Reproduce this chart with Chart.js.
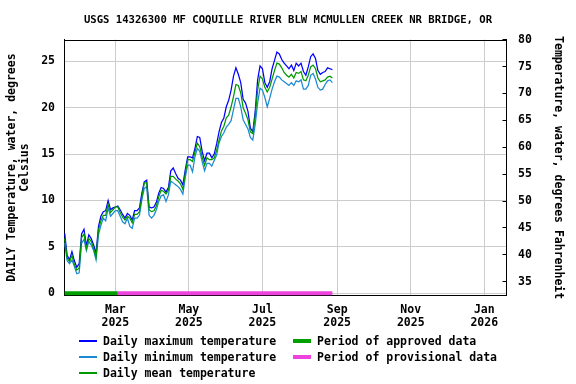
<!DOCTYPE html>
<html>
<head>
<meta charset="utf-8">
<script src="https://cdn.jsdelivr.net/npm/chart.js@4.4.1/dist/chart.umd.min.js"></script>
<style>
  html, body { margin: 0; padding: 0; background: #fff; }
  #wrap { position: relative; width: 576px; height: 384px; }
  #legend { position: absolute; left: 0; top: 0; font: bold 11.5px "DejaVu Sans Mono", monospace; color: #000; }
  .item { position: absolute; white-space: pre; line-height: 14px; }
  .swatch { position: absolute; }
</style>
</head>
<body>
<div id="wrap">
  <canvas id="chart" width="576" height="384"></canvas>
  <div id="legend"></div>
</div>
<script>
const stationTitle = 'USGS 14326300 MF COQUILLE RIVER BLW MCMULLEN CREEK NR BRIDGE, OR';

// one value every 2 days starting at firstDay
const firstDay = '2025-01-18';
const stepDays = 2;

const maxTemp = [
  6.45, 4.1, 3.6, 4.5, 3.5, 2.8, 3.2, 6.4, 6.9, 5.1, 6.3, 5.9, 5.2, 4.3, 7.2, 8.3, 8.8, 8.9, 10.0, 9.0,
  9.2, 9.3, 9.4, 9.0, 8.5, 8.1, 8.6, 8.4, 7.9, 8.9, 8.9, 9.2, 10.8, 12.0, 12.2, 9.3, 9.2, 9.3, 9.8, 10.8,
  11.4, 11.3, 10.9, 11.4, 13.2, 13.5, 12.9, 12.4, 12.2, 11.7, 13.3, 14.7, 14.7, 14.6, 15.6, 16.9, 16.8,
  15.3, 14.3, 15.1, 15.1, 14.6, 15.0, 16.1, 17.4, 18.4, 18.9, 20.1, 20.8, 21.9, 23.4, 24.3, 23.6, 22.7, 20.9,
  20.5, 19.6, 17.8, 17.4, 19.6, 23.0, 24.5, 24.2, 22.7, 22.2, 22.8, 24.2, 25.1, 26.0, 25.8, 25.2, 24.8, 24.5,
  24.2, 24.6, 24.0, 24.8, 24.5, 24.8, 23.9, 23.5, 24.4, 25.5, 25.8, 25.3, 24.0, 23.6, 23.8, 23.9, 24.3, 24.2, 24.1
];
const minTemp = [
  5.4, 3.5, 3.2, 3.6, 2.9, 2.1, 2.2, 5.4, 5.8, 4.6, 5.6, 5.2, 4.6, 3.6, 6.3, 7.3, 8.1, 7.8, 9.2, 8.3,
  8.6, 8.9, 8.9, 8.3, 7.7, 7.5, 8.1, 7.2, 7.0, 8.1, 8.1, 8.4, 10.1, 11.3, 11.5, 8.4, 8.1, 8.4, 9.0, 9.9,
  10.5, 10.6, 9.9, 10.6, 12.1, 11.9, 11.7, 11.5, 11.2, 10.7, 12.5, 13.8, 13.8, 13.1, 14.7, 15.6, 15.3,
  14.2, 13.2, 14.0, 14.0, 13.7, 14.3, 14.9, 16.2, 16.9, 17.3, 17.9, 18.2, 18.6, 19.8, 21.0, 21.0, 20.1, 18.7,
  18.2, 17.7, 16.8, 16.5, 18.2, 20.5, 22.1, 21.9, 21.1, 20.1, 21.0, 22.0, 22.8, 23.4, 23.3, 23.0, 22.8, 22.6,
  22.4, 22.7, 22.4, 22.9, 22.8, 23.0, 22.0, 22.0, 22.4, 23.5, 23.7, 23.1, 22.2, 21.9, 22.0, 22.5, 22.9, 23.0, 22.7
];
const meanTemp = [
  5.9, 3.8, 3.4, 4.1, 3.1, 2.5, 2.7, 6.0, 6.4, 4.8, 5.9, 5.6, 4.8, 3.9, 6.8, 7.8, 8.4, 8.4, 9.6, 8.7,
  9.0, 9.3, 9.3, 8.7, 8.2, 7.9, 8.3, 8.1, 7.6, 8.5, 8.5, 8.8, 10.4, 11.9, 11.9, 9.0, 8.8, 8.9, 9.4, 10.4,
  11.1, 11.0, 10.7, 11.1, 12.6, 12.6, 12.3, 12.1, 11.8, 11.2, 12.9, 14.4, 14.4, 14.2, 15.2, 16.2, 15.8,
  14.7, 13.8, 14.6, 14.4, 14.4, 14.6, 15.4, 16.5, 17.5, 18.0, 18.9, 19.2, 20.1, 21.2, 22.5, 22.4, 21.6, 20.0,
  19.4, 18.7, 17.4, 17.2, 19.1, 21.9, 23.4, 23.1, 22.2, 21.7, 22.2, 23.1, 24.0, 24.8, 24.7, 24.3, 23.8, 23.5,
  23.3, 23.6, 23.2, 23.8, 23.7, 23.9, 23.0, 22.9, 23.5, 24.4, 24.6, 24.2, 23.2, 22.8, 22.9, 23.0, 23.3, 23.4, 23.2
];

const approvedPeriod = ['2025-01-18', '2025-03-03'];
const provisionalPeriod = ['2025-03-03', '2025-08-28'];

const axisRange = ['2025-01-17T10:00:00Z', '2026-01-19T10:00:00Z'];
const monthTicks = ['2025-03-01', '2025-05-01', '2025-07-01', '2025-09-01', '2025-11-01', '2026-01-01'];
const monthNames = ['Mar', 'May', 'Jul', 'Sep', 'Nov', 'Jan'];
const celsiusTicks = [0, 5, 10, 15, 20, 25];
const celsiusRange = [-0.26, 27.35];
const fahrenheitTicks = [35, 40, 45, 50, 55, 60, 65, 70, 75, 80];
const fahrenheitRange = [32.4, 80.04];

const dayNum = s => (Date.parse(s) - Date.parse('2025-01-01')) / 864e5;
const series = vals => vals.map((v, i) => ({ x: dayNum(firstDay) + i * stepDays, y: v }));
const period = p => p.map(d => ({ x: dayNum(d), y: 0 }));

const mono = '"DejaVu Sans Mono", monospace';
Chart.defaults.font.family = mono;
Chart.defaults.font.weight = 'bold';
Chart.defaults.font.size = 11.5;
Chart.defaults.color = '#000';

// top edge of the plot box
const frame = {
  id: 'frame',
  afterDraw(chart) {
    const { ctx, chartArea: a } = chart;
    ctx.save();
    ctx.strokeStyle = '#000';
    ctx.lineWidth = 1;
    ctx.beginPath();
    ctx.moveTo(a.left, Math.round(a.top) + 0.5);
    ctx.lineTo(a.right, Math.round(a.top) + 0.5);
    ctx.stroke();
    ctx.restore();
  }
};

const datasets = [
  { label: 'Daily maximum temperature', data: series(maxTemp), borderColor: '#0000ff', order: 2 },
  { label: 'Daily minimum temperature', data: series(minTemp), borderColor: '#1a8ad4', order: 3 },
  { label: 'Daily mean temperature', data: series(meanTemp), borderColor: '#009a00', order: 1 },
  { label: 'Period of approved data', data: period(approvedPeriod), borderColor: '#00a000', borderWidth: 4, order: 0 },
  { label: 'Period of provisional data', data: period(provisionalPeriod), borderColor: '#ee44dd', borderWidth: 4, order: 0 }
];

new Chart(document.getElementById('chart'), {
  type: 'line',
  data: { datasets },
  options: {
    responsive: false,
    animation: false,
    elements: { point: { radius: 0 }, line: { borderWidth: 1.25, tension: 0 } },
    layout: { padding: 0 },
    plugins: {
      legend: { display: false },
      tooltip: { enabled: false },
      title: {
        display: true,
        text: stationTitle,
        font: { size: 10.6, weight: 'bold' },
        padding: { top: 13.6, bottom: 13.2 }
      }
    },
    scales: {
      x: {
        type: 'linear',
        min: dayNum(axisRange[0]),
        max: dayNum(axisRange[1]),
        afterBuildTicks: s => { s.ticks = monthTicks.map(d => ({ value: dayNum(d) })); },
        ticks: {
          autoSkip: false,
          maxRotation: 0,
          padding: 8,
          font: { lineHeight: 1.1 },
          callback: (v, i) => [monthNames[i], monthTicks[i].slice(0, 4)]
        },
        grid: { color: '#cccccc', drawTicks: false },
        border: { color: '#000' },
        afterFit: s => { s.height = 384 - 295.7; }
      },
      y: {
        position: 'left',
        min: celsiusRange[0],
        max: celsiusRange[1],
        afterBuildTicks: s => { s.ticks = celsiusTicks.map(v => ({ value: v })); },
        ticks: { padding: 9 },
        grid: { color: '#cccccc', drawTicks: false },
        border: { color: '#000' },
        title: {
          display: true,
          text: ['DAILY Temperature, water, degrees', 'Celsius'],
          font: { size: 11.5, lineHeight: 1.1 },
          padding: { top: 5.7, bottom: 0 }
        },
        afterFit: s => { s.width = 64; }
      },
      yF: {
        position: 'right',
        min: fahrenheitRange[0],
        max: fahrenheitRange[1],
        afterBuildTicks: s => { s.ticks = fahrenheitTicks.map(v => ({ value: v })); },
        ticks: { padding: 15.5 },
        grid: { drawOnChartArea: false, tickLength: -4, color: '#000' },
        border: { color: '#000' },
        title: {
          display: true,
          text: 'Temperature, water, degrees Fahrenheit',
          font: { size: 11.5, lineHeight: 1.1 },
          padding: { top: 11.5, bottom: 0 }
        },
        afterFit: s => { s.width = 576 - 506.5; }
      }
    }
  },
  plugins: [frame]
});

// legend laid out in two columns under the plot
const legendCols = [79, 293];
const legendRows = [341, 357, 373];
const legendSlots = [[0, 0], [0, 1], [0, 2], [1, 0], [1, 1]];
const legend = document.getElementById('legend');
datasets.forEach((ds, i) => {
  const [c, r] = legendSlots[i];
  const h = ds.borderWidth || 2;
  const sw = document.createElement('div');
  sw.className = 'swatch';
  sw.style.left = legendCols[c] + 'px';
  sw.style.top = Math.round(legendRows[r] - h / 2) + 'px';
  sw.style.width = '18px';
  sw.style.height = h + 'px';
  sw.style.backgroundColor = ds.borderColor;
  legend.appendChild(sw);
  const t = document.createElement('div');
  t.className = 'item';
  t.textContent = ds.label;
  t.style.left = (legendCols[c] + 24) + 'px';
  t.style.top = (legendRows[r] - 7) + 'px';
  legend.appendChild(t);
});
</script>
</body>
</html>
